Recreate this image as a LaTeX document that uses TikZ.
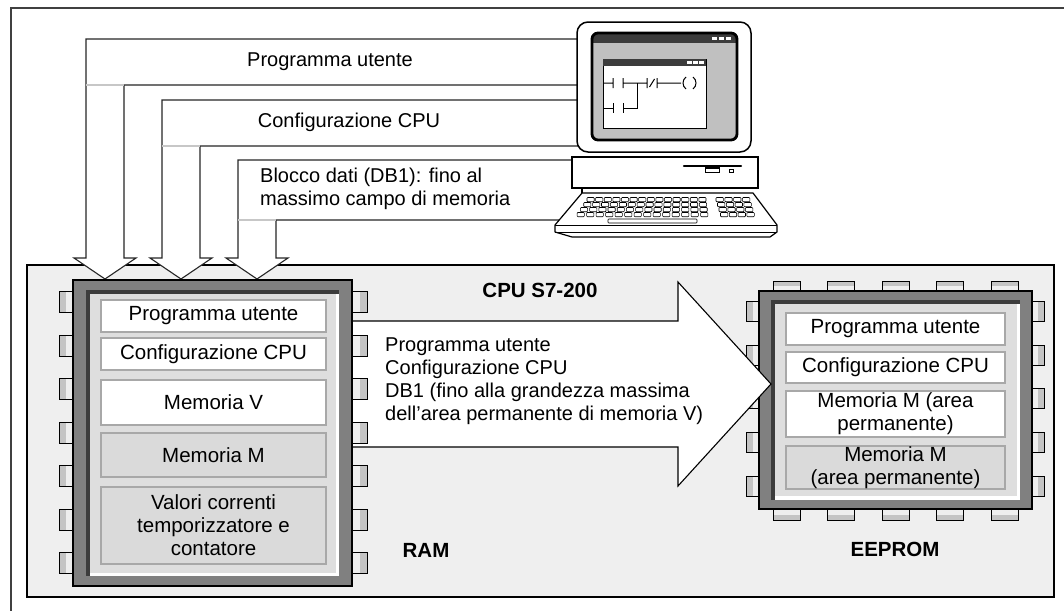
\documentclass[tikz,border=0pt]{standalone}
\usepackage{fontspec}
\setmainfont{Liberation Sans}
\definecolor{boxgray}{HTML}{EFEFEF}
\definecolor{chipframe}{HTML}{808080}
\definecolor{panel}{HTML}{DEDEDE}
\definecolor{blockline}{HTML}{A8A8A8}
\definecolor{blockgray}{HTML}{DADADA}
\definecolor{screengray}{HTML}{C0C0C0}
\definecolor{bardark}{HTML}{3C3C3C}
\definecolor{pinlight}{HTML}{EEEEEE}
\definecolor{pindark}{HTML}{C4C4C4}
\begin{document}
\begin{tikzpicture}[x=1pt,y=-1pt,
  txt/.style={font=\fontsize{20}{23}\selectfont, inner sep=0pt, align=center},
  ttl/.style={font=\fontsize{20.5}{23}\selectfont\bfseries, inner sep=0pt},
  cable/.style={line width=1.1pt, draw=black!85},
  sep/.style={line width=1.1pt, draw=black!22},
  memwhite/.style={draw=blockline, line width=1.8pt, fill=white, inner sep=0pt,
    font=\fontsize{20.5}{23}\selectfont, align=center},
  memgray/.style={memwhite, fill=blockgray},
  pinline/.style={line width=0.9pt, draw=black},
  key/.style={line width=0.6pt, draw=black, fill=white, rounded corners=0.8pt},
  thin/.style={line width=1pt, draw=black},
]
\useasboundingbox (0,0) rectangle (1064,611);

% page frame (top and left rule)
\draw[line width=1.4pt, black!75] (1064,8) -- (11,8) -- (11,611);

% CPU housing
\draw[line width=1.1pt, fill=boxgray] (27,265) rectangle (1054,597);

% attachment points on the programming device
\coordinate (monA) at (577,39);
\coordinate (monB) at (577,85);
\coordinate (monC) at (577,100);
\coordinate (monD) at (578,146);
\coordinate (pcE)  at (572,160);
\coordinate (kbF)  at (565,220);

% download path 1: user program
\fill[white] (monA) -- (86,39) -- (86,258) -- (74,258) -- (105,279) -- (136,258)
  -- (124,258) -- (124,85) -- (monB) -- cycle;
\draw[cable] (monA) -- (86,39) -- (86,258) -- (74,258) -- (105,279) -- (136,258)
  -- (124,258) -- (124,85) -- (monB);
\draw[sep] (86,85) -- (124,85);

% download path 2: CPU configuration
\fill[white] (monC) -- (162,100) -- (162,258) -- (150,258) -- (181,279) -- (212,258)
  -- (200,258) -- (200,146) -- (monD) -- cycle;
\draw[cable] (monC) -- (162,100) -- (162,258) -- (150,258) -- (181,279) -- (212,258)
  -- (200,258) -- (200,146) -- (monD);
\draw[sep] (162,146) -- (200,146);

% download path 3: data block
\fill[white] (pcE) -- (238,160) -- (238,258) -- (226,258) -- (257,279) -- (288,258)
  -- (276,258) -- (276,220) -- (kbF) -- cycle;
\draw[cable] (pcE) -- (238,160) -- (238,258) -- (226,258) -- (257,279) -- (288,258)
  -- (276,258) -- (276,220) -- (kbF);
\draw[sep] (238,220) -- (276,220);

\node[txt] (lblprog) at (330,62) {Programma utente};
\node[txt] (lblconf) at (349,122) {Configurazione CPU};
\node[txt, align=left, anchor=west] (lbldb) at (260,188.5)
  {Blocco dati (DB1): fino al\\massimo campo di memoria};

% ---------- programming device ----------
% monitor
\draw[line width=1.5pt, rounded corners=11pt, fill=white] (577,22) rectangle (751,152);
\begin{scope}
  \clip[rounded corners=6pt] (592,33) rectangle (737,140);
  \fill[screengray] (592,33) rectangle (737,140);
  \fill[bardark] (592,33) rectangle (737,42.5);
\end{scope}
\draw[line width=2.8pt, rounded corners=6pt] (592,33) rectangle (737,140);
\foreach \sx in {712,719,726} \fill[white] (\sx,36.5) rectangle ++(5,3.8);
% editor window
\draw[thin, fill=white] (603,59) rectangle (706,128);
\fill[bardark] (603,59) rectangle (706,65.5);
\foreach \sx in {687,693,699} \fill[white] (\sx,60.5) rectangle ++(4.5,3.5);
% ladder rung 1
\draw[thin] (603,83) -- (613,83) (613,78) -- (613,88) (623,78) -- (623,88)
  (623,83) -- (647,83) (647,78) -- (647,88) (649.5,87) -- (654.5,79)
  (657,78) -- (657,88) (657,83) -- (681,83);
\draw[thin] (686,77) .. controls (682,80) and (682,86) .. (686,89);
\draw[thin] (693,77) .. controls (697,80) and (697,86) .. (693,89);
% ladder rung 2
\draw[thin] (603,108) -- (613,108) (613,103) -- (613,113) (623,103) -- (623,113)
  (623,108) -- (637,108) -- (637,83);

% system unit
\draw[line width=1.3pt, fill=white] (572,157) rectangle (758,188);
\draw[line width=2.4pt, line cap=round] (684,166) -- (741,166);
\draw[line width=1pt, fill=white] (705,167.5) rectangle (719,172.5);
\draw[line width=1.6pt] (705,168) -- (719,168);
\draw[line width=0.9pt] (729,169.5) rectangle (733.5,172);

% keyboard
\draw[line width=1.1pt] (582,188) -- (582,193);
\draw[line width=1.2pt, fill=white, line join=round]
  (582,193) -- (753,193) -- (777,225) -- (777,232) -- (770,237) -- (572,237)
  -- (555,232) -- (555,225) -- cycle;
\draw[line width=1pt] (555,225) -- (777,225) (555,232) -- (777,232);
\foreach \r in {0,1,2,3} {
  \foreach \k in {0,...,13} {
    \draw[key] ({587-3.3*\r+\k*(8.6+0.3*\r)},{197.5+5*\r}) rectangle ++(7.2,4.2);
  }
  \foreach \k in {0,...,3} {
    \draw[key] ({716+1.5*\r+\k*8.8},{197.5+5*\r}) rectangle ++(7.4,4.2);
  }
}
\draw[key] (608,219) rectangle (697,223);

% ---------- EEPROM ----------
\foreach \px in {773,827,882,936,991} {
  \fill[pinlight] (\px,281) rectangle ++(27,10);
  \fill[pindark] (\px,281) rectangle ++(27,5);
  \draw[pinline] (\px,291) -- (\px,281) -- ++(27,0) -- ++(0,10);
  \fill[pinlight] (\px,509) rectangle ++(27,11);
  \fill[pindark] (\px,514.5) rectangle ++(27,5.5);
  \draw[pinline] (\px,509) -- (\px,520) -- ++(27,0) -- ++(0,-11);
}
\foreach \py in {311,355,398,442.5,486} {
  \fill[pinlight] (746,\py-10) rectangle (759,\py+10);
  \fill[pindark] (746,\py-10) rectangle (752.5,\py+10);
  \draw[pinline] (759,\py-10) -- (746,\py-10) -- (746,\py+10) -- (759,\py+10);
  \fill[pinlight] (1032,\py-10) rectangle (1044,\py+10);
  \fill[pindark] (1038,\py-10) rectangle (1044,\py+10);
  \draw[pinline] (1032,\py-10) -- (1044,\py-10) -- (1044,\py+10) -- (1032,\py+10);
}
\draw[line width=1.2pt, fill=chipframe] (759,291) rectangle (1032,509);
\fill[panel] (771,300) rectangle (1020,499.5);
\fill[bardark] (771,300) rectangle (1020,303.5);
\fill[bardark] (771,300) rectangle (774.5,499.5);
\fill[white] (1016.5,303.5) rectangle (1020,499.5);
\fill[white] (774.5,496) rectangle (1020,499.5);
\node[memwhite, minimum width=219, minimum height=32] (eeprog) at (895.5,329) {Programma utente};
\node[memwhite, minimum width=219, minimum height=31] (eeconf) at (895.5,367.5) {Configurazione CPU};
\node[memwhite, minimum width=219, minimum height=46] (eemem1) at (895.5,414) {Memoria M (area\\permanente)};
\node[memgray, minimum width=219, minimum height=43] (eemem2) at (895.5,467.5) {Memoria M\\(area permanente)};

% ---------- transfer arrow RAM -> EEPROM ----------
\draw[line width=1.1pt, fill=white] (352,321) -- (678,321) -- (678,282) -- (771,384)
  -- (678,486) -- (678,447) -- (352,447);
\node[txt, align=left, anchor=west] (xferlist) at (385,381)
  {Programma utente\\Configurazione CPU\\DB1 (fino alla grandezza massima\\dell’area permanente di memoria V)};

% ---------- RAM ----------
\foreach \py in {302,345.5,389,432.5,476,519.5,563} {
  \fill[pinlight] (59,\py-10.5) rectangle (73,\py+10.5);
  \fill[pindark] (59,\py-10.5) rectangle (66,\py+10.5);
  \draw[pinline] (73,\py-10.5) -- (59,\py-10.5) -- (59,\py+10.5) -- (73,\py+10.5);
  \fill[pinlight] (352,\py-10.5) rectangle (367,\py+10.5);
  \fill[pindark] (359.5,\py-10.5) rectangle (367,\py+10.5);
  \draw[pinline] (352,\py-10.5) -- (367,\py-10.5) -- (367,\py+10.5) -- (352,\py+10.5);
}
\draw[line width=1.2pt, fill=chipframe] (73,280) rectangle (352,586);
\fill[panel] (86,290) rectangle (339,576);
\fill[bardark] (86,290) rectangle (339,293.5);
\fill[bardark] (86,290) rectangle (89.5,576);
\fill[white] (335.5,293.5) rectangle (339,576);
\fill[white] (89.5,572.5) rectangle (339,576);
\node[memwhite, minimum width=225, minimum height=32] (ramprog) at (213.5,316) {Programma utente};
\node[memwhite, minimum width=225, minimum height=32] (ramconf) at (213.5,354) {Configurazione CPU};
\node[memwhite, minimum width=225, minimum height=45] (ramv) at (213.5,402.5) {Memoria V};
\node[memgray, minimum width=225, minimum height=44] (ramm) at (213.5,455) {Memoria M};
\node[memgray, minimum width=225, minimum height=77] (ramcnt) at (213.5,525.5)
  {Valori correnti\\temporizzatore e\\contatore};

% ---------- titles ----------
\node[ttl] (cputitle) at (540,290) {CPU S7-200};
\node[ttl] (ramtitle) at (426,550) {RAM};
\node[ttl] (eetitle) at (895,549) {EEPROM};
\end{tikzpicture}
\end{document}
